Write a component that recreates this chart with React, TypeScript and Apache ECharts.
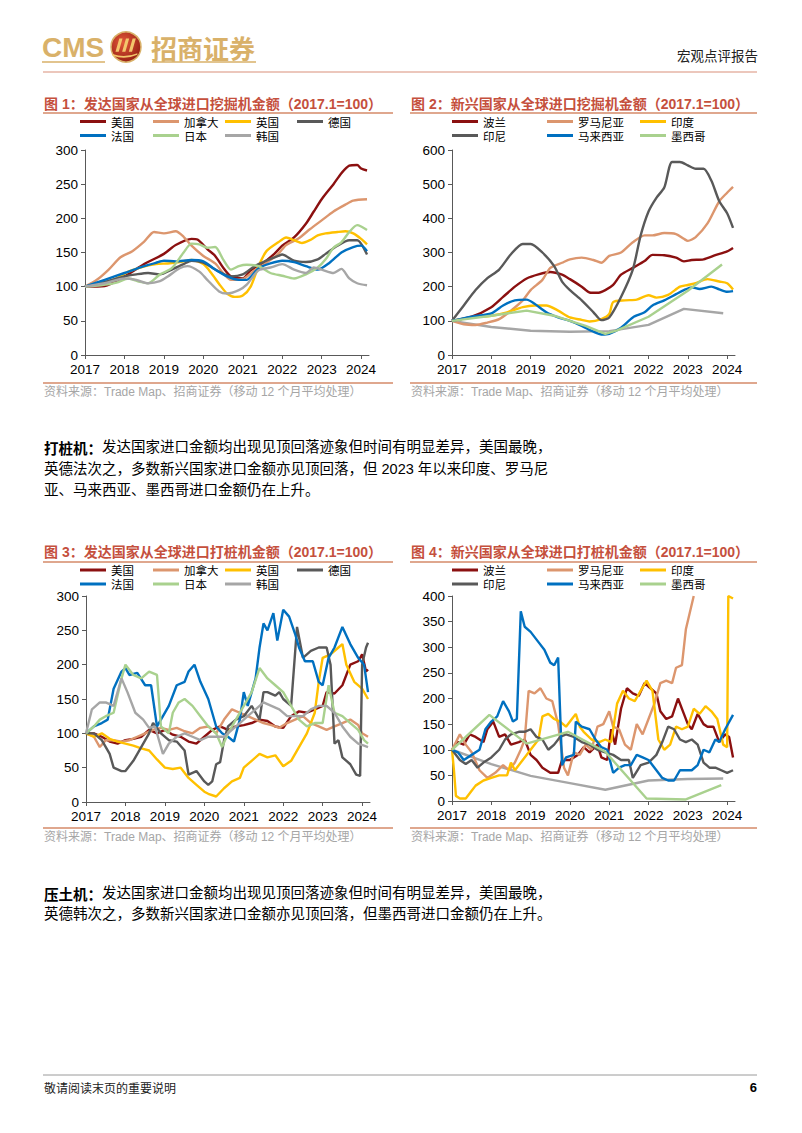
import React, { useEffect, useRef } from 'react';
import * as echarts from 'echarts';

type P = [number, number][];

const CN = '"Noto Sans CJK SC", sans-serif';
const LAT = '"Liberation Sans", Arial, "Noto Sans CJK SC", sans-serif';

// ---------- names & colours ----------
const devNames = ['美国', '加拿大', '英国', '德国', '法国', '日本', '韩国'];
const emgNames = ['波兰', '罗马尼亚', '印度', '印尼', '马来西亚', '墨西哥'];
const palette = ['#8B1010', '#DC966E', '#FFC000', '#595959', '#0070C0', '#A9D18E', '#A6A6A6'];

const titles = [
  '图 1：发达国家从全球进口挖掘机金额（2017.1=100）',
  '图 2：新兴国家从全球进口挖掘机金额（2017.1=100）',
  '图 3：发达国家从全球进口打桩机金额（2017.1=100）',
  '图 4：新兴国家从全球进口打桩机金额（2017.1=100）',
];
const sourceText = '资料来源：Trade Map、招商证券（移动 12 个月平均处理）';
const yearTicks = [2017, 2018, 2019, 2020, 2021, 2022, 2023, 2024];

// ---------- 图1 挖掘机 发达国家 ----------
const ex_us: P = [[2017,100],[2017.5,101],[2018,115],[2018.5,133],[2019,148],[2019.3,161],[2019.7,170],[2019.85,169],[2020.1,155],[2020.3,145],[2020.5,128],[2020.7,115],[2021,112],[2021.2,124],[2021.5,134],[2021.8,148],[2022,160],[2022.3,172],[2022.6,192],[2022.8,210],[2023,228],[2023.3,250],[2023.5,266],[2023.7,277],[2023.9,278],[2024,273],[2024.15,270]];
const ex_ca: P = [[2017,100],[2017.3,110],[2017.6,125],[2017.9,143],[2018.2,152],[2018.5,166],[2018.75,180],[2019,178],[2019.3,181],[2019.5,173],[2019.7,160],[2020,145],[2020.3,134],[2020.5,120],[2020.7,110],[2021,111],[2021.3,124],[2021.6,135],[2021.9,148],[2022.1,161],[2022.4,170],[2022.7,184],[2023,197],[2023.3,210],[2023.6,220],[2023.8,226],[2024.15,228]];
const ex_uk: P = [[2017,100],[2017.4,105],[2017.8,112],[2018.1,122],[2018.4,128],[2018.8,133],[2019.1,134],[2019.4,136],[2019.7,139],[2020,133],[2020.2,120],[2020.4,104],[2020.6,90],[2020.8,85],[2021,87],[2021.2,100],[2021.4,130],[2021.6,152],[2021.9,165],[2022.1,172],[2022.3,168],[2022.5,164],[2022.7,168],[2022.9,175],[2023.1,178],[2023.4,180],[2023.6,181],[2023.8,178],[2024,170],[2024.15,162]];
const ex_de: P = [[2017,100],[2017.5,107],[2018,115],[2018.3,118],[2018.6,120],[2018.9,118],[2019.2,125],[2019.5,133],[2019.7,138],[2020,135],[2020.4,122],[2020.7,115],[2021,118],[2021.3,130],[2021.6,138],[2021.9,145],[2022,147],[2022.3,138],[2022.6,136],[2022.9,140],[2023.1,148],[2023.4,160],[2023.7,168],[2023.9,168],[2024.15,147]];
const ex_fr: P = [[2017,100],[2017.5,110],[2018,120],[2018.5,130],[2018.8,135],[2019,138],[2019.3,137],[2019.7,139],[2020,137],[2020.3,125],[2020.6,115],[2020.9,110],[2021.1,110],[2021.4,127],[2021.7,134],[2022,138],[2022.3,136],[2022.6,130],[2022.9,125],[2023.2,135],[2023.5,150],[2023.8,158],[2024,160],[2024.15,152]];
const ex_jp: P = [[2017,100],[2017.4,102],[2017.8,106],[2018.1,112],[2018.4,107],[2018.6,105],[2018.9,118],[2019.2,127],[2019.5,150],[2019.7,163],[2019.9,162],[2020.1,157],[2020.3,158],[2020.5,140],[2020.7,125],[2020.9,130],[2021.1,132],[2021.4,130],[2021.7,120],[2022,116],[2022.3,112],[2022.6,118],[2022.9,128],[2023.1,140],[2023.3,157],[2023.5,165],[2023.7,180],[2023.9,190],[2024,188],[2024.15,183]];
const ex_kr: P = [[2017,100],[2017.5,105],[2018,112],[2018.3,110],[2018.6,105],[2018.9,108],[2019.1,115],[2019.4,127],[2019.6,130],[2019.9,122],[2020.1,110],[2020.4,93],[2020.6,90],[2020.9,95],[2021.1,103],[2021.4,124],[2021.7,128],[2022,133],[2022.3,125],[2022.6,120],[2022.8,128],[2023,125],[2023.3,120],[2023.5,126],[2023.7,112],[2023.9,105],[2024.15,102]];

// ---------- 图2 挖掘机 新兴国家 ----------
const ex_pl: P = [[2017,100],[2017.5,112],[2018,140],[2018.3,170],[2018.6,200],[2018.9,224],[2019.2,236],[2019.5,243],[2019.8,235],[2020,222],[2020.3,200],[2020.5,183],[2020.7,182],[2020.9,190],[2021.1,205],[2021.3,235],[2021.6,255],[2021.9,275],[2022.1,293],[2022.4,292],[2022.7,285],[2022.9,274],[2023.1,278],[2023.4,280],[2023.7,292],[2024,303],[2024.15,313]];
const ex_ro: P = [[2017,100],[2017.3,90],[2017.6,88],[2017.9,95],[2018.2,105],[2018.5,130],[2018.8,160],[2019,190],[2019.3,220],[2019.5,255],[2019.8,270],[2020,280],[2020.3,285],[2020.6,278],[2020.8,270],[2021,290],[2021.3,300],[2021.6,330],[2021.9,350],[2022.1,350],[2022.4,357],[2022.7,354],[2022.9,340],[2023,334],[2023.2,345],[2023.5,385],[2023.8,450],[2024,475],[2024.15,492]];
const ex_in: P = [[2017,100],[2017.5,110],[2018,115],[2018.4,125],[2018.8,140],[2019.1,145],[2019.4,145],[2019.7,130],[2020,110],[2020.3,103],[2020.5,98],[2020.8,105],[2021,120],[2021.1,155],[2021.4,160],[2021.7,162],[2022,175],[2022.2,168],[2022.5,176],[2022.8,200],[2023,205],[2023.2,210],[2023.5,222],[2023.8,215],[2024,210],[2024.15,192]];
const ex_id: P = [[2017,100],[2017.3,145],[2017.6,190],[2017.9,225],[2018.2,250],[2018.5,295],[2018.8,325],[2019,325],[2019.3,300],[2019.6,260],[2019.8,215],[2020,190],[2020.3,160],[2020.6,125],[2020.8,102],[2021,110],[2021.3,170],[2021.6,250],[2021.8,350],[2022,420],[2022.2,460],[2022.4,490],[2022.6,565],[2022.8,565],[2023,555],[2023.2,545],[2023.4,545],[2023.6,510],[2023.8,450],[2024,415],[2024.15,372]];
const ex_my: P = [[2017,100],[2017.5,112],[2018,122],[2018.3,145],[2018.6,160],[2018.9,162],[2019.1,150],[2019.4,125],[2019.7,110],[2020,100],[2020.3,85],[2020.6,68],[2020.8,60],[2021,62],[2021.3,80],[2021.6,110],[2021.9,125],[2022.1,145],[2022.4,160],[2022.7,178],[2022.9,190],[2023.1,198],[2023.3,193],[2023.6,200],[2023.8,192],[2024,185],[2024.15,187]];
const ex_mx: P = [[2017,100],[2018,115],[2018.9,130],[2019.6,115],[2020,100],[2020.4,85],[2020.9,62],[2021.2,72],[2022,112],[2023,188],[2023.87,265]];
const ex_other: P = [[2017,100],[2018,82],[2019,71],[2020,68],[2021,70],[2022,88],[2022.9,135],[2023.9,122]];

// ---------- 图3 打桩机 发达国家 ----------
const pd_us: P = [[2017,100],[2017.2,100],[2017.4,95],[2017.6,88],[2017.8,85],[2018,90],[2018.2,92],[2018.4,95],[2018.6,105],[2018.8,100],[2019,105],[2019.2,98],[2019.4,95],[2019.6,88],[2019.8,85],[2020,95],[2020.2,105],[2020.4,110],[2020.6,105],[2020.8,110],[2021,112],[2021.2,115],[2021.4,120],[2021.6,118],[2021.8,110],[2022,108],[2022.2,125],[2022.4,132],[2022.6,130],[2022.8,135],[2023,140],[2023.1,160],[2023.3,158],[2023.5,170],[2023.7,200],[2023.9,205],[2024,215],[2024.1,190],[2024.15,193]];
const pd_ca: P = [[2017,100],[2017.2,95],[2017.35,80],[2017.5,90],[2017.7,90],[2017.9,88],[2018.1,90],[2018.3,95],[2018.5,100],[2018.7,105],[2018.9,108],[2019.1,105],[2019.3,108],[2019.5,103],[2019.7,100],[2019.9,108],[2020.1,110],[2020.3,100],[2020.5,120],[2020.7,135],[2020.9,130],[2021.1,125],[2021.3,120],[2021.5,115],[2021.7,112],[2021.9,108],[2022.1,115],[2022.3,120],[2022.5,125],[2022.7,115],[2022.9,110],[2023.1,105],[2023.3,110],[2023.5,115],[2023.7,120],[2023.9,112],[2024,100],[2024.15,95]];
const pd_uk: P = [[2017,100],[2017.2,95],[2017.4,100],[2017.6,92],[2017.8,88],[2018,85],[2018.2,82],[2018.4,78],[2018.6,75],[2018.8,62],[2019,50],[2019.2,48],[2019.4,50],[2019.6,35],[2019.8,25],[2020,15],[2020.1,12],[2020.3,8],[2020.5,20],[2020.7,30],[2020.9,35],[2021,50],[2021.2,60],[2021.4,70],[2021.6,65],[2021.8,68],[2022,52],[2022.2,60],[2022.4,80],[2022.6,100],[2022.8,130],[2022.9,175],[2023,210],[2023.2,215],[2023.4,225],[2023.5,230],[2023.6,200],[2023.8,175],[2024,165],[2024.15,150]];
const pd_de: P = [[2017,100],[2017.2,100],[2017.4,90],[2017.6,70],[2017.7,50],[2017.9,45],[2018,45],[2018.2,60],[2018.4,80],[2018.6,100],[2018.7,115],[2018.9,100],[2019.1,90],[2019.3,88],[2019.5,75],[2019.6,40],[2019.8,45],[2020,30],[2020.1,25],[2020.2,30],[2020.3,55],[2020.4,58],[2020.5,90],[2020.6,110],[2020.8,120],[2021,125],[2021.2,140],[2021.4,120],[2021.5,160],[2021.6,160],[2021.8,155],[2021.9,160],[2022,150],[2022.2,140],[2022.35,255],[2022.5,210],[2022.7,220],[2022.9,225],[2023.1,225],[2023.2,200],[2023.3,85],[2023.4,90],[2023.5,65],[2023.7,55],[2023.85,40],[2023.95,38],[2024,200],[2024.1,225],[2024.15,232]];
const pd_fr: P = [[2017,100],[2017.2,110],[2017.4,115],[2017.55,120],[2017.7,165],[2017.9,190],[2018,195],[2018.1,185],[2018.3,188],[2018.5,170],[2018.65,170],[2018.8,110],[2018.9,120],[2019.1,140],[2019.3,170],[2019.5,175],[2019.6,190],[2019.75,200],[2019.9,175],[2020.1,150],[2020.3,110],[2020.45,100],[2020.6,95],[2020.75,88],[2020.9,120],[2021,160],[2021.1,140],[2021.3,180],[2021.4,225],[2021.5,260],[2021.6,250],[2021.75,275],[2021.85,235],[2022,280],[2022.15,270],[2022.3,245],[2022.4,225],[2022.55,205],[2022.75,205],[2022.9,175],[2023,170],[2023.15,210],[2023.3,225],[2023.5,255],[2023.7,230],[2023.9,210],[2024.05,200],[2024.15,160]];
const pd_jp: P = [[2017,100],[2017.2,110],[2017.35,120],[2017.5,125],[2017.7,130],[2017.9,180],[2018,200],[2018.2,185],[2018.4,180],[2018.6,190],[2018.8,185],[2018.9,110],[2019.1,100],[2019.2,130],[2019.35,145],[2019.5,150],[2019.7,140],[2019.9,125],[2020.1,110],[2020.3,100],[2020.45,80],[2020.6,100],[2020.8,120],[2021,140],[2021.2,160],[2021.4,195],[2021.6,180],[2021.8,170],[2022,160],[2022.2,140],[2022.4,120],[2022.6,110],[2022.8,115],[2023,115],[2023.15,170],[2023.3,130],[2023.5,125],[2023.7,115],[2023.9,105],[2024.05,90],[2024.15,85]];
const pd_kr: P = [[2017,100],[2017.15,135],[2017.35,145],[2017.5,145],[2017.7,140],[2017.9,180],[2018.05,160],[2018.25,130],[2018.45,120],[2018.6,108],[2018.75,110],[2018.95,70],[2019.1,85],[2019.3,95],[2019.5,100],[2019.7,95],[2019.9,90],[2020.1,95],[2020.3,95],[2020.5,95],[2020.7,105],[2020.9,115],[2021.1,125],[2021.3,135],[2021.5,145],[2021.7,140],[2021.9,135],[2022.1,125],[2022.3,125],[2022.5,125],[2022.7,135],[2022.9,140],[2023.1,140],[2023.3,130],[2023.5,110],[2023.7,95],[2023.9,85],[2024.05,82],[2024.15,80]];

// ---------- 图4 打桩机 新兴国家 ----------
const pe_pl: P = [[2017,100],[2017.15,115],[2017.3,110],[2017.45,130],[2017.6,125],[2017.8,115],[2017.9,140],[2018.05,155],[2018.2,125],[2018.35,130],[2018.5,110],[2018.7,115],[2018.85,120],[2019,90],[2019.15,80],[2019.3,65],[2019.5,55],[2019.7,55],[2019.8,80],[2020,80],[2020.2,90],[2020.35,105],[2020.5,95],[2020.7,110],[2020.8,85],[2020.95,80],[2021.05,140],[2021.15,110],[2021.3,180],[2021.45,220],[2021.6,210],[2021.75,205],[2021.9,230],[2022.05,220],[2022.2,210],[2022.3,175],[2022.45,160],[2022.6,165],[2022.75,200],[2022.9,170],[2023,150],[2023.1,140],[2023.25,170],[2023.4,150],[2023.5,145],[2023.65,145],[2023.8,115],[2023.95,130],[2024.05,125],[2024.15,85]];
const pe_ro: P = [[2017,100],[2017.2,130],[2017.35,110],[2017.5,95],[2017.7,60],[2017.9,45],[2018.1,55],[2018.3,70],[2018.45,60],[2018.6,75],[2018.75,100],[2018.85,120],[2018.95,215],[2019.1,210],[2019.25,220],[2019.4,200],[2019.55,195],[2019.7,150],[2019.85,65],[2019.95,50],[2020.1,95],[2020.25,90],[2020.4,110],[2020.55,100],[2020.7,145],[2020.85,150],[2021,175],[2021.1,145],[2021.25,140],[2021.4,110],[2021.55,100],[2021.7,150],[2021.85,130],[2022,160],[2022.15,190],[2022.3,230],[2022.45,235],[2022.6,230],[2022.7,260],[2022.85,265],[2022.95,335],[2023.15,400]];
const pe_in: P = [[2017,100],[2017.05,60],[2017.1,10],[2017.2,5],[2017.35,5],[2017.5,20],[2017.6,30],[2017.8,40],[2018,45],[2018.2,50],[2018.4,50],[2018.5,75],[2018.6,60],[2018.8,80],[2019,100],[2019.2,120],[2019.3,165],[2019.45,170],[2019.6,160],[2019.75,155],[2019.9,145],[2020.05,160],[2020.15,170],[2020.25,145],[2020.35,135],[2020.55,120],[2020.75,115],[2020.9,120],[2021.05,115],[2021.2,190],[2021.35,215],[2021.5,200],[2021.65,195],[2021.8,215],[2021.95,235],[2022.1,215],[2022.25,120],[2022.4,100],[2022.55,110],[2022.7,145],[2022.85,140],[2023,145],[2023.15,180],[2023.3,170],[2023.45,185],[2023.6,175],[2023.75,160],[2023.9,110],[2024,105],[2024.03,400],[2024.15,395]];
const pe_id: P = [[2017,100],[2017.2,80],[2017.35,72],[2017.5,80],[2017.65,65],[2017.8,75],[2018,85],[2018.2,100],[2018.35,120],[2018.5,130],[2018.7,135],[2018.85,135],[2019,140],[2019.15,125],[2019.3,120],[2019.45,100],[2019.6,110],[2019.75,125],[2019.9,130],[2020.1,125],[2020.3,115],[2020.5,110],[2020.7,100],[2020.9,95],[2021.1,90],[2021.3,80],[2021.5,80],[2021.6,45],[2021.8,70],[2022,75],[2022.2,90],[2022.35,115],[2022.5,145],[2022.65,140],[2022.8,120],[2022.95,115],[2023.1,120],[2023.25,110],[2023.4,75],[2023.55,65],[2023.7,65],[2023.85,60],[2024,55],[2024.15,60]];
const pe_my: P = [[2017,100],[2017.15,95],[2017.3,80],[2017.5,90],[2017.7,100],[2017.85,140],[2018,155],[2018.15,165],[2018.3,195],[2018.45,175],[2018.55,155],[2018.65,160],[2018.75,370],[2018.85,340],[2019,330],[2019.2,310],[2019.35,295],[2019.5,270],[2019.6,265],[2019.7,280],[2019.8,70],[2019.9,85],[2020.1,90],[2020.15,155],[2020.3,145],[2020.5,140],[2020.65,120],[2020.8,105],[2020.95,100],[2021.1,55],[2021.25,65],[2021.4,70],[2021.55,70],[2021.7,90],[2021.85,85],[2022,80],[2022.2,60],[2022.35,45],[2022.5,40],[2022.65,40],[2022.8,60],[2022.95,60],[2023.1,60],[2023.25,70],[2023.4,100],[2023.55,95],[2023.7,120],[2023.8,115],[2023.95,140],[2024.15,168]];
const pe_mx: P = [[2017,100],[2017.95,168],[2018.9,112],[2019.95,135],[2020.9,96],[2021.95,5],[2022.95,3],[2023.85,31]];
const pe_other: P = [[2017,100],[2018,72],[2019,49],[2020,35],[2020.9,22],[2022,40],[2023,43],[2023.9,44]];

const devEx = [ex_us, ex_ca, ex_uk, ex_de, ex_fr, ex_jp, ex_kr];
const emgEx = [ex_pl, ex_ro, ex_in, ex_id, ex_my, ex_mx];
const devPile = [pd_us, pd_ca, pd_uk, pd_de, pd_fr, pd_jp, pd_kr];
const emgPile = [pe_pl, pe_ro, pe_in, pe_id, pe_my, pe_mx];

// ---------- text ----------
const para1 = [
  ['打桩机：', '发达国家进口金额均出现见顶回落迹象但时间有明显差异，美国最晚，'],
  ['', '英德法次之，多数新兴国家进口金额亦见顶回落，但 2023 年以来印度、罗马尼'],
  ['', '亚、马来西亚、墨西哥进口金额仍在上升。'],
];
const para2 = [
  ['压土机：', '发达国家进口金额均出现见顶回落迹象但时间有明显差异，美国最晚，'],
  ['', '英德韩次之，多数新兴国家进口金额亦见顶回落，但墨西哥进口金额仍在上升。'],
];

// ---------- layout ----------
const grids = [
  { left: 85, top: 150, width: 284, height: 205, ymax: 300, yint: 50 },
  { left: 452, top: 150, width: 283, height: 205, ymax: 600, yint: 100 },
  { left: 86, top: 596, width: 284, height: 206, ymax: 300, yint: 50 },
  { left: 452, top: 596, width: 283, height: 205, ymax: 400, yint: 50 },
];
const panels = [
  { x1: 43, x2: 393, titleY: 104, tLine: 113, sLine: 383, sY: 392, legY: 121.5 },
  { x1: 410, x2: 757, titleY: 104, tLine: 113, sLine: 383, sY: 392, legY: 121.5 },
  { x1: 43, x2: 393, titleY: 552, tLine: 562, sLine: 828, sY: 837, legY: 570 },
  { x1: 410, x2: 757, titleY: 552, tLine: 562, sLine: 828, sY: 837, legY: 570 },
];
const devLegX = [80, 153, 225, 297, 80, 153, 225];
const devLegRow = [0, 0, 0, 0, 1, 1, 1];
const emgLegX = [452, 547, 640, 452, 547, 640];
const emgLegRow = [0, 0, 0, 1, 1, 1];

const M_PATH =
  'M-10 6 L-6 -8 L-2.6 -8 L-6.6 6 Z M-3 6 L1 -8 L4.4 -8 L0.4 6 Z M4 6 L8 -8 L11.4 -8 L7.4 6 Z M-13 8.5 Q0 13 13 7.5 L13 9.3 Q0 15 -13 10.3 Z';

function buildOption() {
  const xAxis: any[] = [];
  const yAxis: any[] = [];
  const grid: any[] = [];
  const series: any[] = [];
  const legend: any[] = [];
  const graphic: any[] = [];

  grids.forEach((g, i) => {
    grid.push({ left: g.left, top: g.top, width: g.width, height: g.height, containLabel: false });
    xAxis.push({
      type: 'value', gridIndex: i, min: 2017, max: 2024.2, interval: 1,
      axisLine: { show: true, onZero: false, lineStyle: { color: '#595959', width: 1 } },
      axisTick: { show: true, length: 4, lineStyle: { color: '#595959' } },
      splitLine: { show: false },
      axisLabel: {
        fontSize: 13.5, color: '#000', fontFamily: LAT, margin: 8, showMaxLabel: false,
        formatter: (v: number) => (yearTicks.indexOf(Math.round(v)) >= 0 && Math.abs(v - Math.round(v)) < 1e-6 ? String(Math.round(v)) : ''),
      },
    });
    yAxis.push({
      type: 'value', gridIndex: i, min: 0, max: g.ymax, interval: g.yint,
      axisLine: { show: true, lineStyle: { color: '#595959', width: 1 } },
      axisTick: { show: true, length: 4, lineStyle: { color: '#595959' } },
      splitLine: { show: false },
      axisLabel: { fontSize: 13.5, color: '#000', fontFamily: LAT, margin: 7 },
    });
  });

  const addSeries = (names: string[], datas: P[], gi: number, smooth: number | boolean, straight: number[]) => {
    datas.forEach((d, k) => {
      series.push({
        type: 'line', name: names[k], xAxisIndex: gi, yAxisIndex: gi, data: d,
        showSymbol: false, symbol: 'none', smooth: straight.indexOf(k) >= 0 ? false : smooth,
        lineStyle: { color: palette[k], width: 2.4 }, itemStyle: { color: palette[k] },
        z: 2 + k,
      });
    });
  };
  addSeries(devNames, devEx, 0, 0.25, []);
  series.push({ type: 'line', name: '其他', xAxisIndex: 1, yAxisIndex: 1, data: ex_other, showSymbol: false, symbol: 'none', lineStyle: { color: palette[6], width: 2.4 }, itemStyle: { color: palette[6] }, z: 1 });
  addSeries(emgNames, emgEx, 1, 0.25, [5]);
  addSeries(devNames, devPile, 2, false, []);
  series.push({ type: 'line', name: '其他', xAxisIndex: 3, yAxisIndex: 3, data: pe_other, showSymbol: false, symbol: 'none', lineStyle: { color: palette[6], width: 2.4 }, itemStyle: { color: palette[6] }, z: 1 });
  addSeries(emgNames, emgPile, 3, false, []);

  const mkLegend = (name: string, x: number, yc: number) => ({
    data: [name], left: x, top: yc - 6, icon: 'rect', itemWidth: 26, itemHeight: 3,
    padding: 0, selectedMode: false,
    textStyle: { fontSize: 11.5, lineHeight: 12, color: '#000', fontFamily: CN },
  });
  [0, 2].forEach((pi) => {
    devNames.forEach((n, k) => legend.push(mkLegend(n, devLegX[k], panels[pi].legY + devLegRow[k] * 14)));
  });
  [1, 3].forEach((pi) => {
    emgNames.forEach((n, k) => legend.push(mkLegend(n, emgLegX[k], panels[pi].legY + emgLegRow[k] * 14)));
  });

  // header
  const gold = '#D9B169';
  graphic.push(
    { type: 'text', x: 42, y: 47, style: { text: 'CMS', fill: gold, font: `bold 28px ${LAT}`, textVerticalAlign: 'middle' } },
    { type: 'line', shape: { x1: 42, y1: 62, x2: 105, y2: 62 }, style: { stroke: gold, lineWidth: 1.5 } },
    {
      type: 'circle', shape: { cx: 126, cy: 47, r: 15 },
      style: {
        fill: new echarts.graphic.RadialGradient(0.4, 0.35, 0.75, [
          { offset: 0, color: '#E4583A' }, { offset: 1, color: '#8E1A10' },
        ]),
        stroke: gold, lineWidth: 1.5,
      },
    },
    { type: 'cmsm', x: 125, y: 46, scaleX: 0.95, scaleY: 0.95, style: { fill: '#F3C66C' } },
    { type: 'text', x: 151, y: 47, style: { text: '招商证券', fill: gold, font: `bold 26px ${CN}`, textVerticalAlign: 'middle' } },
    { type: 'line', shape: { x1: 152, y1: 62, x2: 256, y2: 62 }, style: { stroke: gold, lineWidth: 1.5 } },
    { type: 'text', x: 758, y: 55, style: { text: '宏观点评报告', fill: '#222', font: `13.5px ${CN}`, textAlign: 'right', textVerticalAlign: 'middle' } },
    { type: 'line', shape: { x1: 43, y1: 72, x2: 757, y2: 72 }, style: { stroke: '#D9907A', lineWidth: 1.2 } },
  );

  // panel titles and sources
  panels.forEach((p, i) => {
    graphic.push(
      { type: 'text', x: p.x1 + 1, y: p.titleY, style: { text: titles[i], fill: '#C5503D', font: `bold 14px ${LAT}`, textVerticalAlign: 'middle' } },
      { type: 'line', shape: { x1: p.x1, y1: p.tLine, x2: p.x2, y2: p.tLine }, style: { stroke: '#D58A68', lineWidth: 1.3 } },
      { type: 'line', shape: { x1: p.x1, y1: p.sLine, x2: p.x2, y2: p.sLine }, style: { stroke: '#D58A68', lineWidth: 1.3 } },
      { type: 'text', x: p.x1 + 1, y: p.sY, style: { text: sourceText, fill: '#A6A6A6', font: `12px ${LAT}`, textVerticalAlign: 'middle' } },
    );
  });

  // paragraphs
  const addPara = (lines: string[][], y0: number, dy: number) => {
    lines.forEach((ln, i) => {
      const y = y0 + i * dy;
      let x = 44;
      if (ln[0]) {
        graphic.push({ type: 'text', x, y, style: { text: ln[0], fill: '#000', font: `bold 14.5px ${CN}`, textVerticalAlign: 'middle' } });
        x += 58;
      }
      graphic.push({ type: 'text', x, y, style: { text: ln[1], fill: '#000', font: `14.5px ${LAT}`, textVerticalAlign: 'middle' } });
    });
  };
  addPara(para1, 447, 21.5);
  addPara(para2, 893, 21);

  // footer
  graphic.push(
    { type: 'line', shape: { x1: 43, y1: 1075, x2: 757, y2: 1075 }, style: { stroke: '#9A9A9A', lineWidth: 1 } },
    { type: 'text', x: 44, y: 1087, style: { text: '敬请阅读末页的重要说明', fill: '#222', font: `12px ${CN}`, textVerticalAlign: 'middle' } },
    { type: 'text', x: 757, y: 1087, style: { text: '6', fill: '#000', font: `bold 13px ${LAT}`, textAlign: 'right', textVerticalAlign: 'middle' } },
  );

  return {
    animation: false,
    backgroundColor: '#fff',
    grid, xAxis, yAxis, series, legend,
    graphic: { elements: graphic },
  };
}

let registered = false;

export default function App() {
  const ref = useRef<HTMLDivElement>(null);
  useEffect(() => {
    if (!registered) {
      echarts.graphic.registerShape('cmsm', echarts.graphic.extendPath(M_PATH, {}));
      registered = true;
    }
    const chart = echarts.init(ref.current!, undefined, { renderer: 'svg' });
    chart.setOption(buildOption() as any);
    return () => chart.dispose();
  }, []);
  return (
    <div
      ref={ref}
      style={{ position: 'absolute', left: 0, top: 0, width: 802, height: 1133, background: '#fff' }}
    />
  );
}
